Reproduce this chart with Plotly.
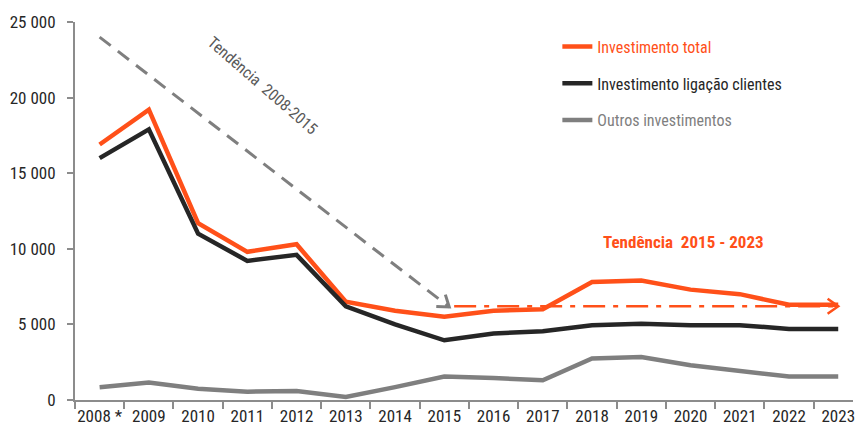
import numpy as np
import plotly.graph_objects as go

# dados
anos = ["2008 *", "2009", "2010", "2011", "2012", "2013", "2014", "2015",
        "2016", "2017", "2018", "2019", "2020", "2021", "2022", "2023"]
inv_total = [16900, 19200, 11700, 9800, 10300, 6500, 5900, 5500,
             5900, 6000, 7800, 7900, 7300, 7000, 6300, 6300]
inv_ligacao = [16000, 17900, 11000, 9200, 9600, 6200, 5000, 3950,
               4400, 4550, 4950, 5050, 4950, 4950, 4700, 4700]
inv_outros = [850, 1150, 750, 550, 600, 200, 850, 1550,
              1450, 1300, 2750, 2850, 2300, 1900, 1550, 1550]

y_ticks = [0, 5000, 10000, 15000, 20000, 25000]
y_ticktext = ["0", "5 000", "10 000", "15 000", "20 000", "25 000"]

# tendencias (inicio e fim, em indice de categoria / valor)
tend1_x = [0, 7.1]
tend1_y = [24000, 6150]
tend2_x = [7.2, 15]
tend2_y = [6200, 6200]

LARANJA = "#ff5019"
PRETO = "#262626"
CINZA = "#7f7f7f"
FONTE = "Roboto Condensed, DejaVu Sans Condensed, sans-serif"

W, H = 860, 435
ML, MR, MT, MB = 75, 5, 22, 35
XR = [-0.5, 15.3]
YR = [0, 25000]
px_x = (W - ML - MR) / (XR[1] - XR[0])
px_y = (H - MT - MB) / (YR[1] - YR[0])


def chevron(x0, y0, x1, y1, comp=13, ang=35):
    # ponta de seta aberta, calculada no espaco de pixeis
    dx = (x1 - x0) * px_x
    dy = (y1 - y0) * px_y
    a = np.arctan2(dy, dx)
    xs, ys = [], []
    for s in (1, -1):
        b = a + np.pi - s * np.radians(ang)
        xs.append(x1 + comp * np.cos(b) / px_x)
        ys.append(y1 + comp * np.sin(b) / px_y)
    return [xs[0], x1, xs[1]], [ys[0], y1, ys[1]]


fig = go.Figure()

# tendencia 2008-2015
fig.add_trace(go.Scatter(x=tend1_x, y=tend1_y, mode="lines", showlegend=False,
                         line=dict(color=CINZA, width=3, dash="14px,9px"),
                         hoverinfo="skip", xaxis="x2"))
cx, cy = chevron(tend1_x[0], tend1_y[0], tend1_x[1], tend1_y[1])
fig.add_trace(go.Scatter(x=cx, y=cy, mode="lines", showlegend=False,
                         line=dict(color=CINZA, width=3), hoverinfo="skip", xaxis="x2"))

# tendencia 2015-2023
fig.add_trace(go.Scatter(x=tend2_x, y=tend2_y, mode="lines", showlegend=False,
                         line=dict(color=LARANJA, width=2.5, dash="22px,8px,5px,8px"),
                         hoverinfo="skip", xaxis="x2"))
cx, cy = chevron(tend2_x[0], tend2_y[0], tend2_x[1], tend2_y[1])
fig.add_trace(go.Scatter(x=cx, y=cy, mode="lines", showlegend=False,
                         line=dict(color=LARANJA, width=2.5), hoverinfo="skip", xaxis="x2"))

series = [
    ("Investimento total", inv_total, LARANJA),
    ("Investimento ligação clientes", inv_ligacao, PRETO),
    ("Outros investimentos", inv_outros, CINZA),
]
for i, (nome, vals, cor) in enumerate(series):
    fig.add_trace(go.Scatter(
        x=anos, y=vals, mode="lines",
        name="<span style='color:%s'>%s</span>" % (cor, nome),
        legendgroup=str(i),
        line=dict(color=cor, width=4.5)))

fig.add_annotation(text="Tendência  2008-2015", x=3.31, y=20800,
                   xref="x2", yref="y", showarrow=False, textangle=41,
                   xanchor="center", yanchor="middle",
                   font=dict(family=FONTE, size=16, color="#595959"))
fig.add_annotation(text="<b>Tendência  2015 - 2023</b>", x=11.85, y=10450,
                   xref="x2", yref="y", showarrow=False,
                   font=dict(family=FONTE, size=17, color=LARANJA))

fig.update_layout(
    width=W, height=H,
    margin=dict(l=ML, r=MR, t=MT, b=MB),
    plot_bgcolor="white", paper_bgcolor="white",
    font=dict(family=FONTE, size=17, color=PRETO),
    legend=dict(x=0.62, y=0.98, xanchor="left", yanchor="top",
                font=dict(family=FONTE, size=16),
                tracegroupgap=13, traceorder="grouped",
                bgcolor="rgba(0,0,0,0)"),
    xaxis=dict(type="category", range=XR, showgrid=False,
               showline=True, linecolor="#8c8c8c", linewidth=2,
               ticks="outside", tickson="boundaries", ticklen=7,
               tickcolor="#8c8c8c", tickwidth=2, tickangle=0),
    xaxis2=dict(range=XR, overlaying="x", visible=False),
    yaxis=dict(range=YR, showgrid=False, zeroline=False,
               showline=True, linecolor="#8c8c8c", linewidth=2,
               ticks="outside", ticklen=6, tickcolor="#8c8c8c", tickwidth=2,
               ticklabelstandoff=8,
               tickvals=y_ticks, ticktext=y_ticktext),
)

# tirar a margem por omissao do <body> e a barra de ferramentas
fig.write_html("out.html", config={"displayModeBar": False},
               post_script="document.body.style.margin='0';")
